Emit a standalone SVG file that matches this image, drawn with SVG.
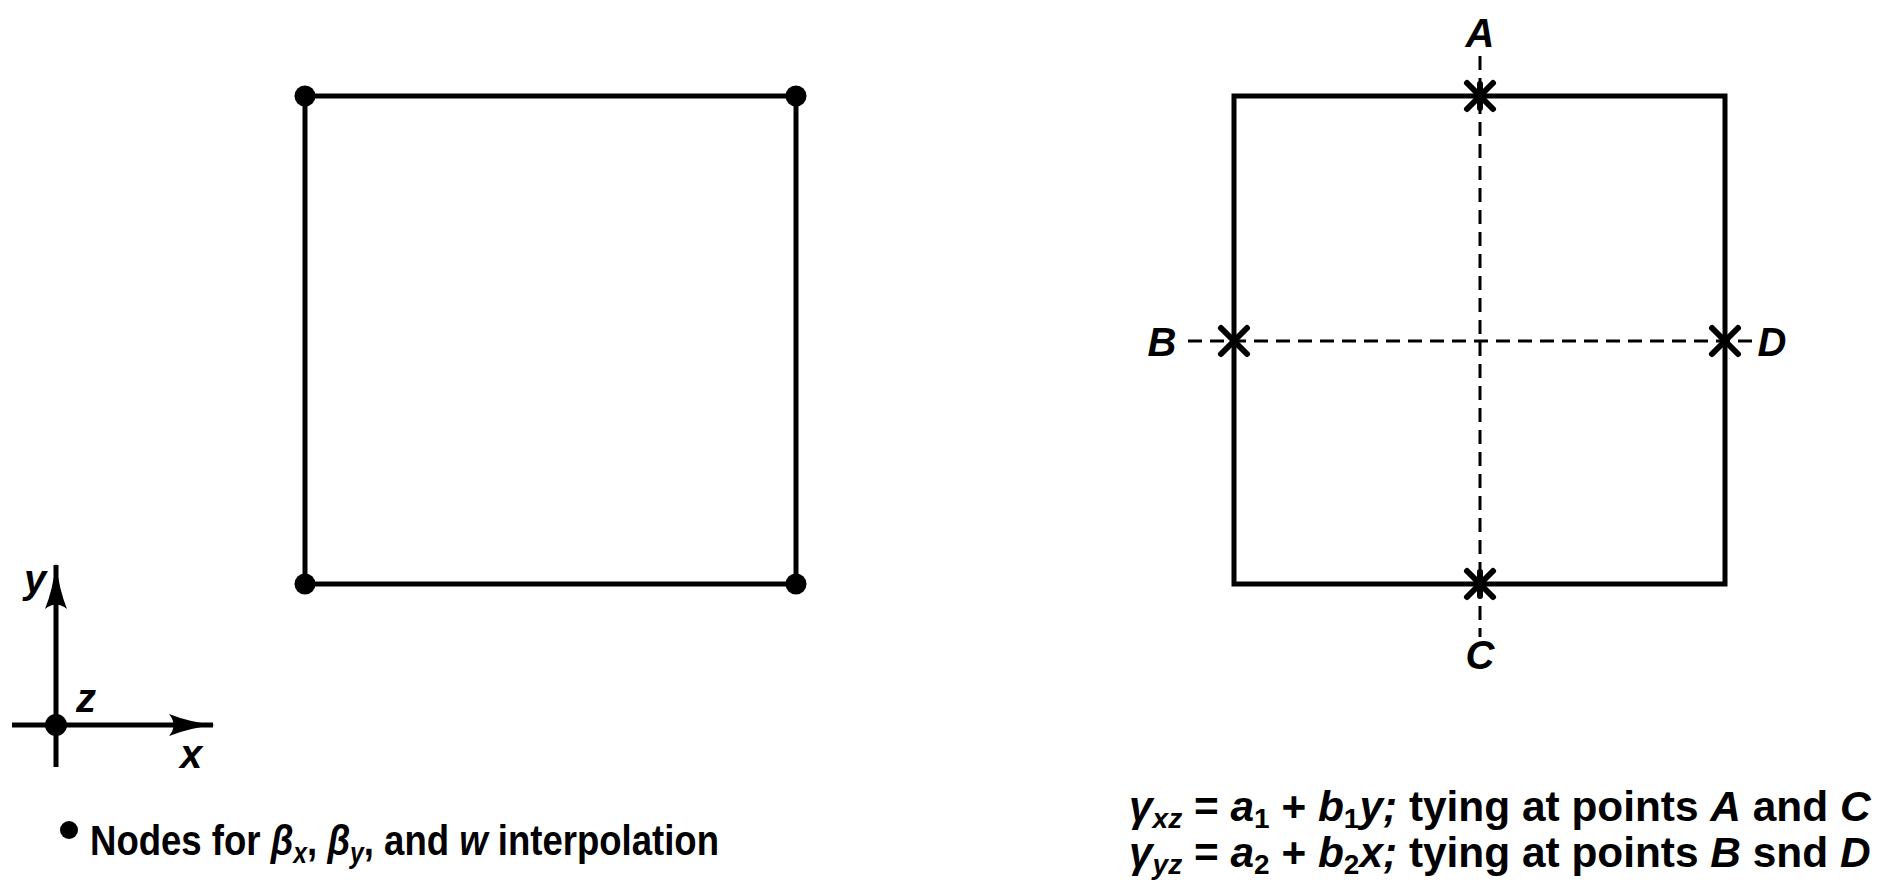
<svg xmlns="http://www.w3.org/2000/svg" width="1878" height="887" viewBox="0 0 1878 887">
<defs>
<style>
.frame{fill:none;stroke:#000;stroke-width:5}
.dash{fill:none;stroke:#000;stroke-width:3;stroke-dasharray:14 8}
.cross{stroke:#000;stroke-width:6;stroke-linecap:round}
.axis{stroke:#000;stroke-width:5}
.t{font-family:"Liberation Sans",Arial,sans-serif;font-weight:bold;fill:#000}
.i{font-style:italic}
.lbl{font-family:"Liberation Sans",Arial,sans-serif;font-weight:bold;font-style:italic;font-size:40px;fill:#000}
</style>
<marker id="ah" viewBox="0 0 46 24" refX="44" refY="12" markerWidth="46" markerHeight="24" markerUnits="userSpaceOnUse" orient="auto">
<path d="M0,1 Q20,9 46,12 Q20,15 0,23 Q9,12 0,1 Z" fill="#000"/>
</marker>
</defs>
<rect width="1878" height="887" fill="#fff"/>

<g id="left-element">
<rect class="frame" x="305" y="96" width="491" height="488"/>
<circle cx="305" cy="96" r="10.5"/>
<circle cx="796" cy="96" r="10.5"/>
<circle cx="305" cy="584" r="10.5"/>
<circle cx="796" cy="584" r="10.5"/>
</g>

<g id="axes">
<line class="axis" x1="56" y1="767" x2="56" y2="565" marker-end="url(#ah)"/>
<line class="axis" x1="12" y1="725" x2="213" y2="725" marker-end="url(#ah)"/>
<circle cx="56" cy="725" r="11"/>
<text class="lbl" x="24" y="593">y</text>
<text class="lbl" x="76" y="712">z</text>
<text class="lbl" x="180" y="768">x</text>
</g>

<g id="right-element">
<rect class="frame" x="1234" y="96" width="491" height="488"/>
</g>

<g id="connectors">
<line class="dash" x1="1480" y1="56" x2="1480" y2="637"/>
<line class="dash" x1="1188" y1="341" x2="1755" y2="341"/>
</g>

<g id="point-A">
<line class="cross" x1="1467" y1="83" x2="1493" y2="109"/>
<line class="cross" x1="1493" y1="83" x2="1467" y2="109"/>
<line class="cross" x1="1480" y1="84" x2="1480" y2="108"/>
<text class="lbl" x="1480" y="47" text-anchor="middle">A</text>
</g>
<g id="point-B">
<line class="cross" x1="1221" y1="328" x2="1247" y2="354"/>
<line class="cross" x1="1247" y1="328" x2="1221" y2="354"/>
<text class="lbl" x="1162" y="356" text-anchor="middle">B</text>
</g>
<g id="point-C">
<line class="cross" x1="1467" y1="571" x2="1493" y2="597"/>
<line class="cross" x1="1493" y1="571" x2="1467" y2="597"/>
<line class="cross" x1="1480" y1="572" x2="1480" y2="596"/>
<text class="lbl" x="1480" y="669" text-anchor="middle">C</text>
</g>
<g id="point-D">
<line class="cross" x1="1712" y1="328" x2="1738" y2="354"/>
<line class="cross" x1="1738" y1="328" x2="1712" y2="354"/>
<text class="lbl" x="1772" y="356" text-anchor="middle">D</text>
</g>

<g id="legend-left">
<circle cx="69" cy="830" r="9"/>
<g transform="translate(90,855) scale(0.85,1)">
<text class="t" x="0" y="0" font-size="43">Nodes for <tspan class="i">β</tspan><tspan class="i" font-size="29" dy="8">x</tspan><tspan dy="-8">, </tspan><tspan class="i">β</tspan><tspan class="i" font-size="29" dy="8">y</tspan><tspan dy="-8">, and </tspan><tspan class="i">w</tspan> interpolation</text>
</g>
</g>

<g id="legend-right">
<text class="t" x="1129" y="821" font-size="42.4"><tspan class="i">γ</tspan><tspan class="i" font-size="28" dy="7">xz</tspan><tspan dy="-7"> = </tspan><tspan class="i">a</tspan><tspan font-size="28" dy="7">1</tspan><tspan dy="-7"> + </tspan><tspan class="i">b</tspan><tspan font-size="28" dy="7">1</tspan><tspan class="i" dy="-7">y;</tspan> tying at points <tspan class="i">A</tspan> and <tspan class="i">C</tspan></text>
<text class="t" x="1129" y="867" font-size="42.4"><tspan class="i">γ</tspan><tspan class="i" font-size="28" dy="7">yz</tspan><tspan dy="-7"> = </tspan><tspan class="i">a</tspan><tspan font-size="28" dy="7">2</tspan><tspan dy="-7"> + </tspan><tspan class="i">b</tspan><tspan font-size="28" dy="7">2</tspan><tspan class="i" dy="-7">x;</tspan> tying at points <tspan class="i">B</tspan> snd <tspan class="i">D</tspan></text>
</g>
</svg>
